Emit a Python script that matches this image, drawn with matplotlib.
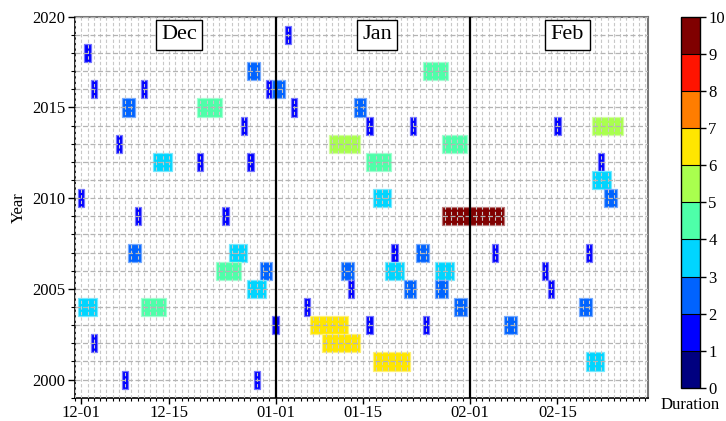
import numpy as np
import matplotlib
matplotlib.use("Agg")
import matplotlib.pyplot as plt
from matplotlib.patches import Rectangle
from matplotlib.ticker import MultipleLocator, FixedLocator
from matplotlib.colors import Normalize, to_rgb
from matplotlib.cm import ScalarMappable

plt.rcParams['font.family'] = ['Liberation Serif', 'DejaVu Serif']

# event records: year, start date (month-day), duration in days
event_year = [2019,
              2018,
              2017, 2017,
              2016, 2016, 2016, 2016,
              2015, 2015, 2015, 2015,
              2014, 2014, 2014, 2014, 2014,
              2013, 2013, 2013,
              2012, 2012, 2012, 2012, 2012,
              2011,
              2010, 2010, 2010,
              2009, 2009, 2009,
              2007, 2007, 2007, 2007, 2007, 2007,
              2006, 2006, 2006, 2006, 2006, 2006,
              2005, 2005, 2005, 2005, 2005,
              2004, 2004, 2004, 2004, 2004,
              2003, 2003, 2003, 2003, 2003,
              2002, 2002,
              2001, 2001,
              2000, 2000]
event_start = ['01-03',
               '12-02',
               '12-28', '01-25',
               '12-03', '12-11', '12-31', '01-01',
               '12-08', '12-20', '01-04', '01-14',
               '12-27', '01-16', '01-23', '02-15', '02-21',
               '12-07', '01-10', '01-28',
               '12-13', '12-20', '12-28', '01-16', '02-22',
               '02-21',
               '12-01', '01-17', '02-23',
               '12-10', '12-24', '01-28',
               '12-09', '12-25', '01-20', '01-24', '02-05', '02-20',
               '12-23', '12-30', '01-12', '01-19', '01-27', '02-13',
               '12-28', '01-13', '01-22', '01-27', '02-14',
               '12-01', '12-11', '01-06', '01-30', '02-19',
               '01-01', '01-07', '01-16', '01-25', '02-07',
               '12-03', '01-09',
               '01-17', '02-20',
               '12-08', '12-29']
event_days = [1,
              1,
              2, 4,
              1, 1, 1, 2,
              2, 4, 1, 2,
              1, 1, 1, 1, 5,
              1, 5, 4,
              3, 1, 1, 4, 1,
              3,
              1, 3, 2,
              1, 1, 10,
              2, 3, 1, 2, 1, 1,
              4, 2, 2, 3, 3, 1,
              3, 1, 2, 2, 1,
              3, 4, 1, 2, 2,
              1, 6, 1, 1, 2,
              1, 6,
              6, 3,
              1, 1]

tick_dates = ['12-01', '12-15', '01-01', '01-15', '02-01', '02-15']
months = ['Dec', 'Jan', 'Feb']
month_centers = [15.6, 47.2, 77.6]
month_bounds = ['01-01', '02-01']


def day_index(md):
    m, d = (int(v) for v in md.split('-'))
    return {12: 0, 1: 31, 2: 62}[m] + d - 1


cmap = plt.get_cmap('jet', 10)
norm = Normalize(0, 10)

fig = plt.figure(figsize=(7.26, 4.21), dpi=100)
ax = fig.add_axes([0.1033, 0.0553, 0.7897, 0.9050])

for yr, st, dur in zip(event_year, event_start, event_days):
    c = np.array(to_rgb(cmap(norm(dur))))
    edge = 0.55 * c + 0.45
    ax.add_patch(Rectangle((day_index(st) - 0.5, yr - 0.5), dur, 1,
                           facecolor=c, edgecolor=edge, lw=0.9, zorder=1))

for md in month_bounds:
    ax.axvline(day_index(md), color='black', lw=1.6, zorder=4)

for name, xc in zip(months, month_centers):
    ax.text(xc, 2019, name, fontsize=16, ha='center', va='center', zorder=6,
            bbox=dict(boxstyle='square,pad=0.25', fc='white', ec='black', lw=1))

ax.set_xlim(-1, 90.5)
ax.set_ylim(1999, 2020)
ax.xaxis.set_major_locator(FixedLocator([day_index(t) for t in tick_dates]))
ax.set_xticklabels(tick_dates)
ax.xaxis.set_minor_locator(MultipleLocator(1))
ax.yaxis.set_major_locator(MultipleLocator(5))
ax.yaxis.set_minor_locator(MultipleLocator(1))

ax.set_axisbelow(False)
ax.grid(which='both', axis='x', color='#c8c8c8', lw=0.8, ls=(0, (3, 2)), zorder=2)
ax.grid(which='both', axis='y', color='#b4b4b4', lw=0.9, ls=(0, (4, 2)), zorder=2)

ax.tick_params(which='both', direction='out', labelsize=12)
ax.tick_params(axis='x', which='major', length=4, width=1, pad=1)
ax.tick_params(axis='x', which='minor', length=2.5, width=0.8)
ax.tick_params(axis='y', which='major', length=5, width=1, pad=2)
ax.tick_params(axis='y', which='minor', length=3, width=0.8)
ax.set_ylabel('Year', fontsize=12, labelpad=4)

for s in ['left', 'bottom']:
    ax.spines[s].set_color('black')
    ax.spines[s].set_linewidth(1.2)
for s in ['top', 'right']:
    ax.spines[s].set_color('#777777')
    ax.spines[s].set_linewidth(1.5)

cax = fig.add_axes([0.938, 0.0784, 0.026, 0.882])
cb = fig.colorbar(ScalarMappable(norm=norm, cmap=cmap), cax=cax,
                  ticks=range(11), drawedges=True)
cb.outline.set_linewidth(1)
cb.dividers.set_linewidth(0.8)
cax.tick_params(labelsize=12, length=4, width=1, direction='out', pad=2)
fig.text(0.951, 1 - 397 / 421, 'Duration', fontsize=12, ha='center', va='top')

fig.savefig('out.png', dpi=100)
